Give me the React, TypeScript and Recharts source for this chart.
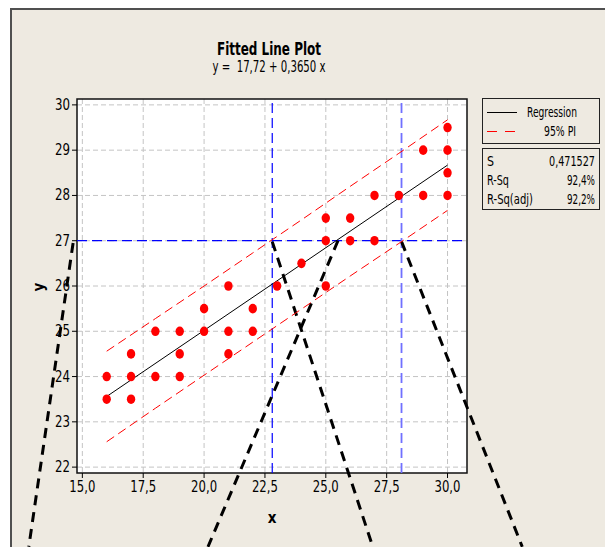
import React from 'react';
import { ScatterChart, Scatter, XAxis, YAxis, ReferenceLine, ReferenceArea, CartesianGrid } from 'recharts';

// ---- data ----
const xTicks = [15, 17.5, 20, 22.5, 25, 27.5, 30];
const yTicks = [22, 23, 24, 25, 26, 27, 28, 29, 30];
const xGridValues = [15, 16.25, 17.5, 18.75, 20, 21.25, 22.5, 23.75, 25, 26.25, 27.5, 28.75, 30];
const yGridValues = [22, 22.5, 23, 23.5, 24, 24.5, 25, 25.5, 26, 26.5, 27, 27.5, 28, 28.5, 29, 29.5, 30];

const obsX = [16, 16, 17, 17, 17, 18, 18, 19, 19, 19, 20, 20, 21, 21, 21, 22, 22, 23, 24, 25, 25, 25, 26, 26, 27, 27, 28, 29, 29, 30, 30, 30, 30];
const obsY = [24, 23.5, 24.5, 24, 23.5, 25, 24, 25, 24.5, 24, 25.5, 25, 26, 25, 24.5, 25.5, 25, 26, 26.5, 27.5, 27, 26, 27.5, 27, 28, 27, 28, 29, 28, 29.5, 29, 28.5, 28];

const fitX = [16, 30];
const fitY = [23.56, 28.67];

const piX = [16, 18, 20, 22, 24, 26, 28, 30];
const piUpper = [24.56, 25.28, 26.0, 26.73, 27.46, 28.2, 28.93, 29.67];
const piLower = [22.56, 23.3, 24.03, 24.76, 25.49, 26.22, 26.94, 27.67];

const targetY = 27;
const crossX = [22.8, 28.11];

// thick black dashed annotation strokes (start / end in data units)
const annoStartX = [14.62, 22.8, 25.5, 28.11];
const annoStartY = [26.95, 26.98, 27.0, 26.98];
const annoEndX = [12.8, 26.93, 20.16, 33.07];
const annoEndY = [20.24, 20.24, 20.24, 20.24];

const xDomain = [14.78, 30.8];
const yDomain = [21.87, 30.13];

const title = 'Fitted Line Plot';
const subtitle = 'y =  17,72 + 0,3650 x';
const legendItems = ['Regression', '95% PI'];
const statLabels = ['S', 'R-Sq', 'R-Sq(adj)'];
const statValues = ['0,471527', '92,4%', '92,2%'];

// ---- derived tables ----
const obs = obsX.map((x, i) => ({ x, y: obsY[i] }));
const fit = fitX.map((x, i) => ({ x, y: fitY[i] }));
const upper = piX.map((x, i) => ({ x, y: piUpper[i] }));
const lower = piX.map((x, i) => ({ x, y: piLower[i] }));
const annos = annoStartX.map((x, i) => [
  { x, y: annoStartY[i] },
  { x: annoEndX[i], y: annoEndY[i] },
]);

const FONT = "'DejaVu Sans Condensed', 'DejaVu Sans', sans-serif";
const statLabelWidths = [7, 22, 46];
const statValueWidths = [46, 28, 28];

const Dot = (props: any) => {
  const { cx, cy } = props;
  if (cx == null || cy == null) return <g />;
  return <ellipse cx={cx} cy={cy} rx={4.2} ry={4.8} fill="#ff0000" />;
};
const NoDot = () => <g />;

const TickX = (props: any) => {
  const { x, y, payload } = props;
  const label = Number(payload.value).toFixed(1).replace('.', ',');
  return (
    <text x={x} y={y + 12} textAnchor="middle" fontSize={15} fill="#000" fontFamily={FONT} textLength={26} lengthAdjust="spacingAndGlyphs">
      {label}
    </text>
  );
};
const TickY = (props: any) => {
  const { x, y, payload } = props;
  return (
    <text x={x} y={y + 5} textAnchor="end" fontSize={15} fill="#000" fontFamily={FONT} textLength={15} lengthAdjust="spacingAndGlyphs">
      {String(payload.value)}
    </text>
  );
};

export default function App() {
  return (
    <div style={{ position: 'absolute', left: 0, top: 0, width: 608, height: 547, background: '#fff', overflow: 'hidden', fontFamily: FONT }}>
      <div style={{ position: 'absolute', left: 10, top: 8, width: 593, height: 560, background: '#EEEAE1', borderTop: '2px solid #505050', borderLeft: '2px solid #505050' }} />
      <div style={{ position: 'absolute', left: 77, top: 99, width: 390, height: 374, background: '#fff' }} />
      <div style={{ position: 'absolute', left: 0, top: 0 }}>
        <ScatterChart width={608} height={547} margin={{ top: 99, right: 141, bottom: 34, left: 37 }}>
          <CartesianGrid
            stroke="#c4c4c4"
            strokeDasharray="5 3"
            horizontalValues={yGridValues}
            verticalValues={xGridValues}
          />
          <XAxis
            type="number"
            dataKey="x"
            domain={xDomain}
            ticks={xTicks}
            allowDataOverflow
            height={40}
            axisLine={false}
            tickSize={5}
            tickLine={{ stroke: '#000' }}
            tick={<TickX />}
          />
          <YAxis
            type="number"
            dataKey="y"
            domain={yDomain}
            ticks={yTicks}
            allowDataOverflow
            width={40}
            axisLine={false}
            tickSize={5}
            tickMargin={2}
            tickLine={{ stroke: '#000' }}
            tick={<TickY />}
          />
          <Scatter data={upper} shape={NoDot} line={{ stroke: '#ff0000', strokeWidth: 1, strokeDasharray: '9 5' }} isAnimationActive={false} />
          <Scatter data={lower} shape={NoDot} line={{ stroke: '#ff0000', strokeWidth: 1, strokeDasharray: '9 5' }} isAnimationActive={false} />
          <Scatter data={fit} shape={NoDot} line={{ stroke: '#000', strokeWidth: 1 }} isAnimationActive={false} />
          <ReferenceLine y={targetY} stroke="#0000ff" strokeWidth={1.3} strokeDasharray="10 5" />
          <ReferenceLine x={crossX[0]} stroke="#0000ff" strokeWidth={1.2} strokeDasharray="10 5" />
          <ReferenceLine x={crossX[1]} stroke="#7070ff" strokeWidth={1.8} strokeDasharray="10 5" />
          <Scatter data={obs} shape={Dot} isAnimationActive={false} />
          <ReferenceArea x1={xDomain[0]} x2={xDomain[1]} y1={yDomain[0]} y2={yDomain[1]} fill="none" fillOpacity={0} stroke="#111" strokeWidth={1.5} />
          {annos.map((seg, i) => (
            <ReferenceLine key={i} segment={seg} ifOverflow="visible" stroke="#000" strokeWidth={3} strokeDasharray="10 7" />
          ))}
        </ScatterChart>
      </div>
      <svg width={608} height={547} style={{ position: 'absolute', left: 0, top: 0, pointerEvents: 'none' }} fontFamily={FONT}>
        <text x={269} y={55} textAnchor="middle" fontSize={17} fontWeight="bold" fill="#000" textLength={104} lengthAdjust="spacingAndGlyphs">{title}</text>
        <text x={269} y={71.5} textAnchor="middle" fontSize={15.5} fill="#000" style={{ whiteSpace: 'pre' }} textLength={113} lengthAdjust="spacingAndGlyphs">{subtitle}</text>
        <text x={272} y={523} textAnchor="middle" fontSize={15} fontWeight="bold" fill="#000">x</text>
        <text x={44} y={287} textAnchor="middle" fontSize={15} fontWeight="bold" fill="#000" transform="rotate(-90 44 287)">y</text>

        <rect x={482.5} y={98.5} width={117} height={45} fill="none" stroke="#222" strokeWidth={1} />
        <line x1={487} x2={517} y1={112.5} y2={112.5} stroke="#000" strokeWidth={1} />
        <text x={527} y={117} fontSize={14} fill="#000" textLength={50} lengthAdjust="spacingAndGlyphs">{legendItems[0]}</text>
        <line x1={487} x2={517} y1={131.5} y2={131.5} stroke="#ff0000" strokeWidth={1} strokeDasharray="10 8" />
        <text x={544} y={136} fontSize={14} fill="#000" textLength={32} lengthAdjust="spacingAndGlyphs">{legendItems[1]}</text>

        <rect x={482.5} y={148.5} width={117} height={61} fill="none" stroke="#222" strokeWidth={1} />
        {statLabels.map((s, i) => (
          <text key={s} x={487} y={166 + i * 19} fontSize={14} fill="#000" textLength={statLabelWidths[i]} lengthAdjust="spacingAndGlyphs">{s}</text>
        ))}
        {statValues.map((s, i) => (
          <text key={s} x={595 - statValueWidths[i]} y={166 + i * 19} fontSize={14} fill="#000" textLength={statValueWidths[i]} lengthAdjust="spacingAndGlyphs">{s}</text>
        ))}
      </svg>
    </div>
  );
}
